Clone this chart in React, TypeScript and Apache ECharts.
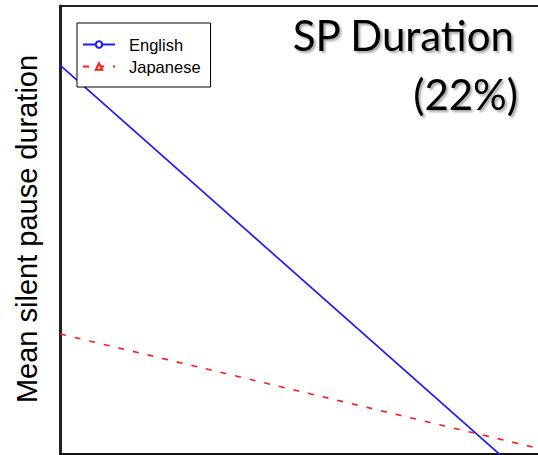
import React, { useEffect, useRef } from "react";
import * as echarts from "echarts";

const seriesNames = ["English", "Japanese"];
const xPositions = [0, 1];
const englishValues = [0.868, -0.12];
const japaneseValues = [0.268, 0.001];
const titleLines = ["SP Duration", "(22%)"];
const yAxisTitle = "Mean silent pause duration";

export default function App() {
  const ref = useRef<HTMLDivElement>(null);
  useEffect(() => {
    if (!ref.current) return;
    const chart = echarts.init(ref.current, undefined, { renderer: "svg" });
    const toPairs = (vals: number[]) => vals.map((v, i) => [xPositions[i], v]);
    const titleStyle = {
      fontFamily: "Lato, sans-serif",
      fontSize: 42,
      fill: "#000000",
      textAlign: "right",
      textVerticalAlign: "middle",
      textShadowColor: "rgba(0,0,0,0.35)",
      textShadowOffsetX: 2,
      textShadowOffsetY: 2,
      textShadowBlur: 2,
    };
    chart.setOption({
      animation: false,
      backgroundColor: "#ffffff",
      grid: {
        left: 60,
        top: 6,
        bottom: 1,
        right: 40,
        show: true,
        borderColor: "#222222",
        borderWidth: 2,
        backgroundColor: "transparent",
      },
      xAxis: {
        type: "value",
        min: 0,
        max: 1,
        axisLine: { show: true, onZero: false, lineStyle: { color: "#111111", width: 2 } },
        axisTick: { show: false },
        axisLabel: { show: false },
        splitLine: { show: false },
      },
      yAxis: {
        type: "value",
        min: 0,
        max: 1,
        axisLine: { show: true, lineStyle: { color: "#222222", width: 3 } },
        axisTick: { show: false },
        axisLabel: { show: false },
        splitLine: { show: false },
      },
      legend: {
        left: 77,
        top: 23,
        orient: "vertical",
        backgroundColor: "#ffffff",
        borderColor: "#000000",
        borderWidth: 1,
        padding: [13, 10, 12, 5],
        itemGap: 5,
        itemWidth: 32,
        itemHeight: 8,
        textStyle: {
          fontFamily: "Liberation Sans, Arial, sans-serif",
          fontSize: 16.5,
          color: "#000000",
          padding: [0, 0, 0, 9],
        },
        data: seriesNames,
      },
      series: [
        {
          name: seriesNames[0],
          type: "line",
          data: toPairs(englishValues),
          symbol: "emptyCircle",
          symbolSize: 7,
          showSymbol: false,
          clip: true,
          itemStyle: { color: "#1a1aff" },
          lineStyle: { color: "#1a1aff", width: 1.7 },
        },
        {
          name: seriesNames[1],
          type: "line",
          data: toPairs(japaneseValues),
          symbol: "emptyTriangle",
          symbolSize: 8,
          showSymbol: false,
          clip: true,
          itemStyle: { color: "#ff1a1a" },
          lineStyle: { color: "#ff1a1a", width: 1.6, type: [6, 9] },
        },
      ],
      graphic: [
        {
          type: "text",
          x: 514,
          y: 35,
          style: { ...titleStyle, text: titleLines[0] },
        },
        {
          type: "text",
          x: 518,
          y: 94,
          style: { ...titleStyle, text: titleLines[1] },
        },
        {
          type: "text",
          x: 27,
          y: 229,
          rotation: Math.PI / 2,
          style: {
            text: yAxisTitle,
            fontFamily: "Liberation Sans, Arial, sans-serif",
            fontSize: 29,
            fill: "#000000",
            textAlign: "center",
            textVerticalAlign: "middle",
          },
        },
      ],
    });
    return () => chart.dispose();
  }, []);
  return (
    <div
      style={{
        position: "fixed",
        left: 0,
        top: 0,
        width: 538,
        height: 455,
        overflow: "hidden",
        background: "#ffffff",
      }}
    >
      <div ref={ref} style={{ width: 600, height: 455 }} />
    </div>
  );
}
